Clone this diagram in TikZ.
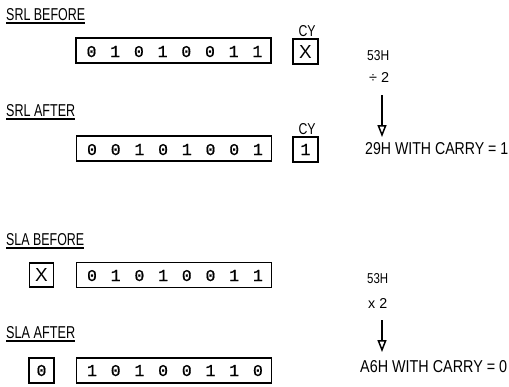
\documentclass[tikz,border=0pt]{standalone}
\usepackage{fontspec}
\usepackage{graphicx}
\setmainfont{Liberation Sans}
\newfontfamily\digfont{Liberation Mono}[FakeBold=0.8]
\usetikzlibrary{arrows.meta}
\newcommand{\fitT}[3]{\resizebox{#1pt}{#2pt}{#3}}
\newcommand{\dg}[1]{\resizebox{!}{11pt}{\digfont #1}}
\begin{document}
\begin{tikzpicture}[x=1pt,y=-1pt,
  lbl/.style={inner sep=0pt, anchor=base west},
  box/.style={draw, line width=1.8pt, inner sep=0pt},
  dig/.style={inner sep=0pt, anchor=base},
  ul/.style={line width=1.6pt},
  arr/.style={line width=2pt, -{Triangle[open, width=9pt, length=12pt, line width=1.5pt]}}]
\useasboundingbox (0,0) rectangle (509,386);

% headings
\node[lbl] (h1) at (6,20) {\fitT{79}{12}{SRL BEFORE}};
\node[lbl] (h2) at (6,116) {\fitT{69}{12}{SRL AFTER}};
\node[lbl] (h3) at (6,245) {\fitT{78}{12}{SLA BEFORE}};
\node[lbl] (h4) at (6,338) {\fitT{69}{12}{SLA AFTER}};
\foreach \h in {h1,h2,h3,h4}
  \draw[ul] ([yshift=-3pt]\h.base west) -- ([yshift=-3pt]\h.base east);

% registers
\node[box, minimum width=195pt, minimum height=25pt] (r1) at (173.5,50.5) {};
\foreach \d [count=\i from 0] in {0,1,0,1,0,0,1,1}
  \node[dig] (r1d\i) at (91.5+23.7*\i, 57) {\dg{\d}};
\node[box, minimum width=195pt, minimum height=25pt] (r2) at (174,148.5) {};
\foreach \d [count=\i from 0] in {0,0,1,0,1,0,0,1}
  \node[dig] (r2d\i) at (92+23.7*\i, 155) {\dg{\d}};
\node[box, minimum width=195pt, minimum height=25pt] (r3) at (174,275) {};
\foreach \d [count=\i from 0] in {0,1,0,1,0,0,1,1}
  \node[dig] (r3d\i) at (92+23.7*\i, 281) {\dg{\d}};
\node[box, minimum width=195pt, minimum height=25pt] (r4) at (174,370.5) {};
\foreach \d [count=\i from 0] in {1,0,1,0,0,1,1,0}
  \node[dig] (r4d\i) at (92+23.7*\i, 376) {\dg{\d}};

% carry boxes
\node[lbl, anchor=base] (cyl1) at (307,36) {\fitT{17}{11}{CY}};
\node[box, minimum size=25pt] (cy1) at (305.5,51.5) {\resizebox{!}{13pt}{X}};
\node[lbl, anchor=base] (cyl2) at (307,134) {\fitT{17}{11}{CY}};
\node[box, minimum size=25pt] (cy2) at (305.5,149.5) {\dg{1}};
\node[box, minimum size=24pt] (cy3) at (41.5,275) {\resizebox{!}{13pt}{X}};
\node[box, minimum size=25pt] (cy4) at (41.5,370.5) {\dg{0}};

% right side notes
\node[lbl] (n1) at (367,60) {\fitT{22}{10}{53H}};
\node[lbl] (o1) at (369,82) {\fitT{20}{10}{÷ 2}};
\coordinate (a1s) at (382,95);
\coordinate (a1e) at (382,137);
\draw[arr] (a1s) -- (a1e);
\node[lbl] (res1) at (365,154) {\fitT{143}{12}{29H WITH CARRY = 1}};

\node[lbl] (n2) at (367,283) {\fitT{21}{10}{53H}};
\node[lbl] (o2) at (368,308) {\fitT{19}{10}{x 2}};
\coordinate (a2s) at (382,320);
\coordinate (a2e) at (382,352);
\draw[arr] (a2s) -- (a2e);
\node[lbl] (res2) at (360,372) {\fitT{147}{12}{A6H WITH CARRY = 0}};
\end{tikzpicture}
\end{document}
